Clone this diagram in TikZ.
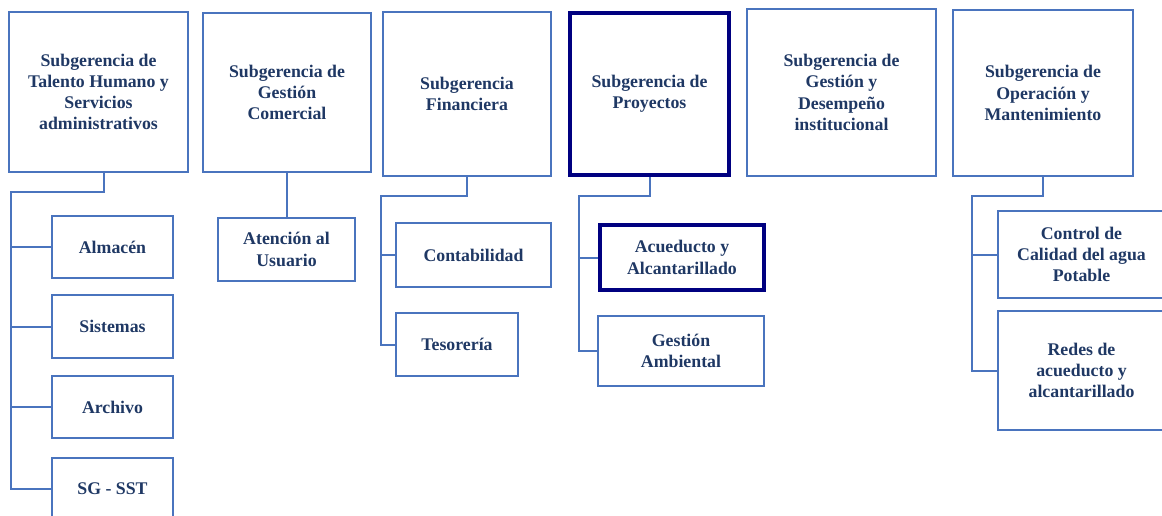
\documentclass[tikz,border=0pt]{standalone}
\usepackage{fontspec}
\setmainfont{Liberation Serif}
\usetikzlibrary{positioning}
\definecolor{boxblue}{RGB}{74,116,190}
\definecolor{navy}{RGB}{0,0,128}
\definecolor{textnavy}{RGB}{31,56,100}

\tikzset{
	unit/.style={draw=boxblue,line width=2pt,align=center,text=textnavy,
		font=\bfseries\fontsize{17.8}{21.2}\selectfont,inner sep=0pt},
	keyunit/.style={unit,draw=navy,line width=4pt},
	link/.style={draw=boxblue,line width=2pt}
}

\begin{document}
\begin{tikzpicture}[x=1pt,y=-1pt]
	\useasboundingbox (0,0) rectangle (1162,516);
	\clip (0,0) rectangle (1162,516);
	
	% Subgerencias
	\node[unit,minimum width=179pt,minimum height=160pt] (tal) at (98.5,92) {Subgerencia de\\Talento Humano y\\Servicios\\administrativos};
	\node[unit,minimum width=168pt,minimum height=159pt] (com) at (287,92.5) {Subgerencia de\\Gestión\\Comercial};
	\node[unit,minimum width=168pt,minimum height=164pt] (fin) at (467,94) {Subgerencia\\Financiera};
	\node[keyunit,minimum width=159pt,minimum height=162pt] (pro) at (649.5,94) {Subgerencia de\\Proyectos};
	\node[unit,minimum width=189pt,minimum height=167pt] (des) at (841.5,92.5) {Subgerencia de\\Gestión y\\Desempeño\\institucional};
	\node[unit,minimum width=180pt,minimum height=166pt] (ope) at (1043,93) {Subgerencia de\\Operación y\\Mantenimiento};
	
	% Talento Humano
	\node[unit,minimum width=121pt,minimum height=62pt] (alm) at (112.5,247) {Almacén};
	\node[unit,minimum width=121pt,minimum height=63pt] (sis) at (112.5,326.5) {Sistemas};
	\node[unit,minimum width=121pt,minimum height=62pt] (arc) at (112.5,407) {Archivo};
	\node[unit,minimum width=121pt,minimum height=62pt] (sst) at (112.5,489) {SG - SST};
	\coordinate (talbus) at (11,192);
	\draw[link] ([xshift=5pt]tal.south) |- (talbus) |- (sst.west);
	\foreach \u in {alm,sis,arc}
		\draw[link] (\u.west) -- (\u.west -| talbus);
	
	% Gestion Comercial
	\node[unit,minimum width=137pt,minimum height=63pt] (ate) at (286.5,249.5) {Atención al\\Usuario};
	\draw[link] (com.south) -- (com.south |- ate.north);
	
	% Financiera
	\node[unit,minimum width=155pt,minimum height=64pt] (con) at (473.5,255) {Contabilidad};
	\node[unit,minimum width=122pt,minimum height=63pt] (tes) at (457,344.5) {Tesorería};
	\coordinate (finbus) at (381,196);
	\draw[link] (fin.south) |- (finbus) |- (tes.west);
	\draw[link] (con.west) -- (con.west -| finbus);
	
	% Proyectos
	\node[keyunit,minimum width=164pt,minimum height=65pt] (acu) at (682,257.5) {Acueducto y\\Alcantarillado};
	\node[unit,minimum width=166pt,minimum height=70pt] (amb) at (681,351) {Gestión\\Ambiental};
	\coordinate (probus) at (579,196);
	\draw[link] (pro.south) |- (probus) |- (amb.west);
	\draw[link] (acu.west) -- (acu.west -| probus);
	
	% Operacion y Mantenimiento
	\node[unit,minimum width=167pt,minimum height=87pt] (ctl) at (1081.5,254.5) {Control de\\Calidad del agua\\Potable};
	\node[unit,minimum width=167pt,minimum height=119pt] (red) at (1081.5,370.5) {Redes de\\acueducto y\\alcantarillado};
	\coordinate (opebus) at (972,196);
	\draw[link] (ope.south) |- (opebus) |- (red.west);
	\draw[link] (ctl.west) -- (ctl.west -| opebus);
\end{tikzpicture}
\end{document}
